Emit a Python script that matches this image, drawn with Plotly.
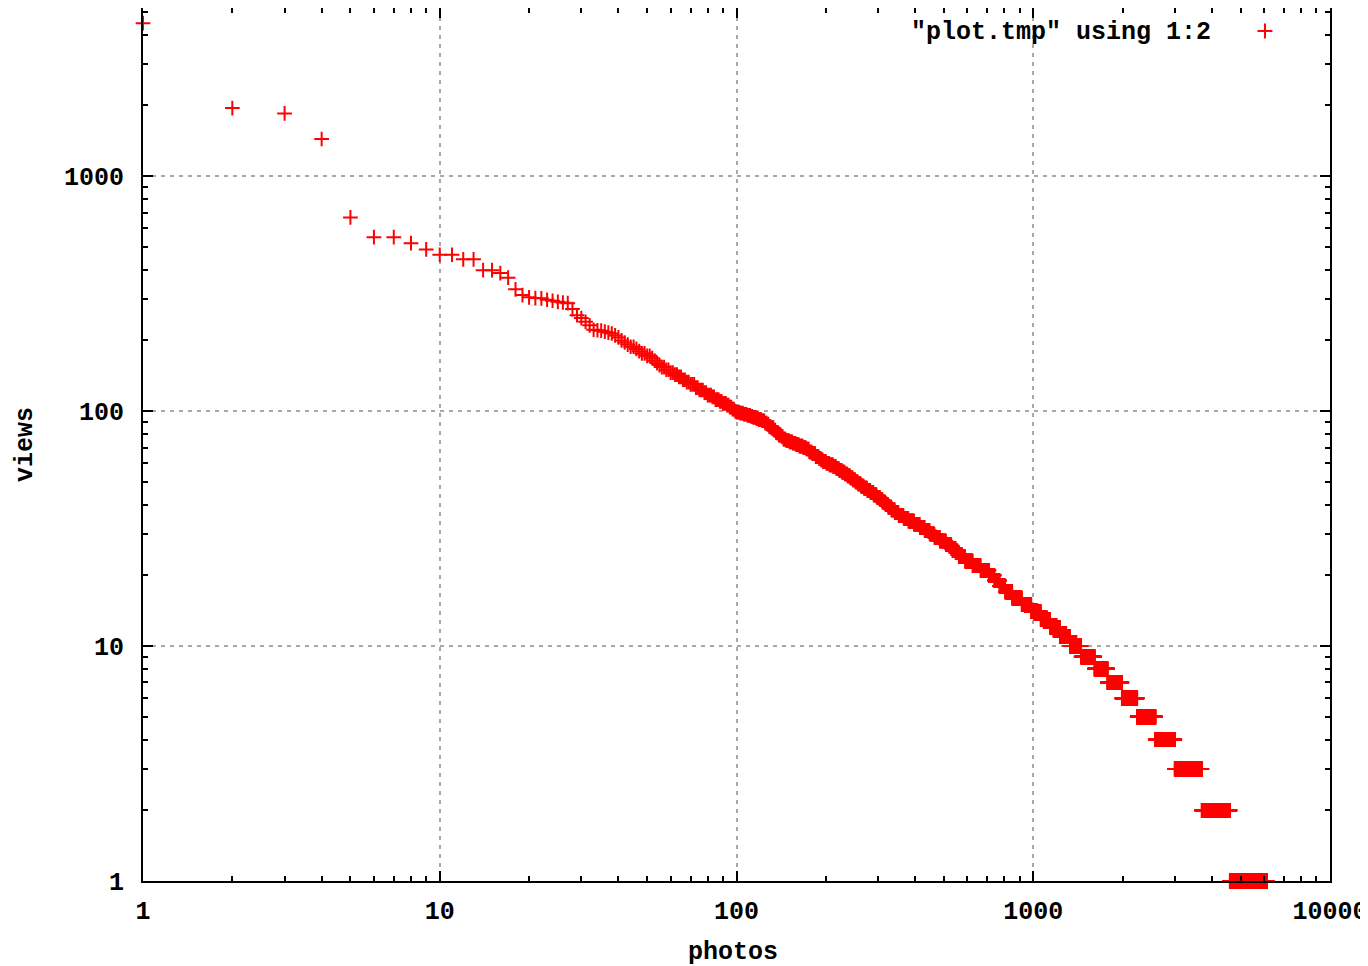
import plotly.graph_objects as go

# views of the first 40 photos, one value per rank
head_views = [4480, 1950, 1850, 1440, 668, 550, 550, 519, 488, 463,
              463, 443, 443, 398, 398, 387, 370, 330, 312, 305,
              303, 302, 298, 295, 292, 290, 288, 272, 256, 249,
              240, 232, 222, 221, 220, 218, 216, 214, 210, 206]

# from rank 41 on: view count and the rank of the first photo having it
level_views = [200, 196, 192, 188, 184, 180, 176, 172, 168, 164,
               160, 157, 154, 150, 146, 143, 140, 136, 133, 130,
               126, 123, 120, 117, 115, 112, 110, 108, 106, 104,
               102, 100, 99, 98, 97, 96, 95, 94, 93, 92,
               91, 89, 88, 86, 85, 83, 81, 79, 78, 76,
               75, 74, 73, 72, 71, 70, 69, 67, 66, 64,
               63, 62, 61, 60, 59, 58, 57, 56, 55, 54,
               53, 52, 51, 50, 49, 48, 47, 46, 45, 44,
               43, 42, 41, 40, 39, 38, 37, 36, 35, 34,
               33, 32, 31, 30, 29, 28, 27, 26, 25, 24,
               23, 22, 21, 20, 19, 18, 17, 16, 15, 14,
               13, 12, 11, 10, 9, 8, 7, 6, 5, 4,
               3, 2, 1]
level_first = [41, 42, 43, 44, 46, 47, 48, 50, 52, 53,
               54, 55, 56, 58, 60, 62, 64, 66, 68, 70,
               73, 75, 78, 80, 83, 85, 88, 90, 93, 95,
               97, 99, 100, 103, 106, 109, 112, 114, 117, 119,
               122, 125, 127, 129, 131, 134, 136, 139, 142, 144,
               147, 151, 155, 159, 163, 168, 172, 176, 180, 185,
               190, 193, 196, 201, 206, 212, 217, 222, 227, 232,
               237, 242, 247, 252, 257, 263, 269, 276, 283, 290,
               297, 305, 311, 318, 325, 333, 342, 352, 366, 380,
               397, 415, 431, 448, 465, 485, 508, 530, 548, 562,
               590, 625, 665, 710, 740, 770, 805, 850, 915, 985,
               1060, 1140, 1230, 1330, 1450, 1610, 1780, 1990, 2240, 2580,
               3000, 3700, 4600]
last_rank = 6130

x_ticks = [1, 10, 100, 1000, 10000]
x_labels = ["1", "10", "100", "1000", "10000"]
y_ticks = [1, 10, 100, 1000]
y_labels = ["1", "10", "100", "1000"]

ranks = list(range(1, len(head_views) + 1))
views = list(head_views)
ends = level_first[1:] + [last_rank + 1]
for v, a, b in zip(level_views, level_first, ends):
    for r in range(a, b):
        ranks.append(r)
        views.append(v)


def minor_ticks(top):
    return [m * 10 ** e for e in range(5) for m in range(2, 10) if m * 10 ** e < top]


font = dict(family="Liberation Mono, DejaVu Sans Mono, monospace", size=25,
            color="black", weight="bold")

fig = go.Figure(go.Scatter(
    x=ranks, y=views, mode="markers", cliponaxis=False, showlegend=False,
    marker=dict(symbol="cross-thin", size=10.5, color="red",
                line=dict(width=2, color="red")),
))

axis = dict(type="log", showline=True, linewidth=2, linecolor="black",
            mirror="allticks", ticks="inside", ticklen=10, tickwidth=1.5,
            tickcolor="black", tickfont=font, automargin=False,
            showgrid=True, gridcolor="#a8a8a8", gridwidth=1.5, griddash="4px,5px",
            zeroline=False, title_font=font)

fig.update_xaxes(axis, range=[0, 4], tickvals=x_ticks, ticktext=x_labels,
                 ticklabelstandoff=6,
                 minor=dict(ticks="inside", ticklen=5, tickwidth=1.5, tickcolor="black",
                            tickvals=minor_ticks(10000), showgrid=False))
fig.update_yaxes(axis, range=[0, 3.716], tickvals=y_ticks, ticktext=y_labels,
                 ticklabelstandoff=12, title_text="views", title_standoff=24,
                 minor=dict(ticks="inside", ticklen=5, tickwidth=1.5, tickcolor="black",
                            tickvals=minor_ticks(5200), showgrid=False))

fig.add_annotation(text="photos", xref="paper", yref="paper", x=0.497, y=-0.082,
                   xanchor="center", yanchor="middle", showarrow=False, font=font)

# gnuplot style key: text then sample symbol
fig.add_annotation(text='"plot.tmp" using 1:2', xref="paper", yref="paper",
                   x=0.9014, y=0.9715, xanchor="right", yanchor="middle",
                   showarrow=False, font=font)
for dx, dy in [(7.5, 0), (0, 7.5)]:
    fig.add_shape(type="line", xref="paper", yref="paper",
                  xsizemode="pixel", ysizemode="pixel", xanchor=0.9452, yanchor=0.9737,
                  x0=-dx, x1=dx, y0=-dy, y1=dy, line=dict(color="red", width=2))

# the page adds an 8px body margin, so the figure is 8px smaller each way
fig.update_layout(width=1360, height=958, margin=dict(l=135, r=38, t=0, b=85),
                  plot_bgcolor="white", paper_bgcolor="white", font=font)

fig.write_html("out.html")
